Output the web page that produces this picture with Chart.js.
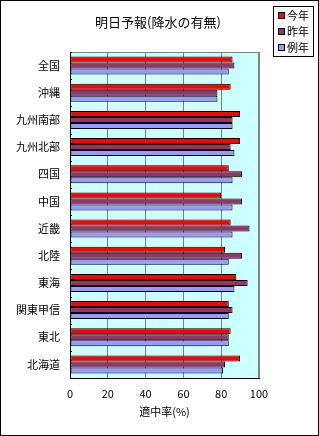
<!DOCTYPE html>
<html>
<head>
<meta charset="utf-8">
<script src="https://cdn.jsdelivr.net/npm/chart.js@4.4.0/dist/chart.umd.min.js"></script>
<style>
  html, body { margin: 0; padding: 0; background: #fff; }
  #wrap { width: 319px; height: 436px; }
</style>
</head>
<body>
<div id="wrap"><canvas id="c" width="319" height="436"></canvas></div>
<script>
// 地域（上から順に）
const regions = ['全国', '沖縄', '九州南部', '九州北部', '四国', '中国', '近畿', '北陸', '東海', '関東甲信', '東北', '北海道'];
// 適中率(%)
const thisYear = [86, 85, 90, 90, 84, 80, 85, 82, 88, 84, 85, 90];
const lastYear = [87, 78, 86, 85, 91, 91, 95, 91, 94, 86, 84, 82];
const normalYear = [84, 78, 86, 87, 86, 86, 86, 84, 87, 84, 84, 81];
const seriesNames = ['今年', '昨年', '例年'];
const xTicks = [0, 20, 40, 60, 80, 100];

const FONT = '"Noto Sans CJK JP", "Noto Sans", sans-serif';

// 背景・枠・タイトル・凡例
const decor = {
  id: 'decor',
  beforeDraw(chart) {
    const { ctx, chartArea: a } = chart;
    ctx.save();
    ctx.fillStyle = '#ccffff';
    ctx.fillRect(a.left, a.top, a.right - a.left, a.bottom - a.top);
    ctx.restore();
  },
  afterDraw(chart) {
    const { ctx, chartArea: a, width, height } = chart;
    ctx.save();
    // プロットエリアの上・右の枠
    ctx.strokeStyle = '#808080';
    ctx.lineWidth = 1;
    ctx.beginPath();
    ctx.moveTo(Math.round(a.left) + 0.5, Math.round(a.top) + 0.5);
    ctx.lineTo(Math.round(a.right) - 0.5, Math.round(a.top) + 0.5);
    ctx.lineTo(Math.round(a.right) - 0.5, Math.round(a.bottom));
    ctx.stroke();

    // y軸の内向き目盛り
    ctx.strokeStyle = '#000';
    const yScale = chart.scales.y;
    const step = (a.bottom - a.top) / regions.length;
    for (let i = 0; i <= regions.length; i++) {
      const y = Math.round(a.top + i * step) + 0.5;
      ctx.beginPath();
      ctx.moveTo(a.left, y);
      ctx.lineTo(a.left + 2, y);
      ctx.stroke();
    }

    // 外枠
    ctx.strokeRect(0.5, 0.5, width - 1, height - 1);

    // タイトル
    ctx.fillStyle = '#000';
    ctx.font = '13px ' + FONT;
    ctx.textAlign = 'center';
    ctx.textBaseline = 'middle';
    ctx.fillText('明日予報(降水の有無)', 158, 22);

    // 凡例
    ctx.fillStyle = '#fff';
    ctx.fillRect(273.5, 6.5, 40, 50);
    ctx.strokeRect(273.5, 6.5, 40, 50);
    ctx.font = '11px ' + FONT;
    ctx.textAlign = 'left';
    chart.data.datasets.forEach((ds, i) => {
      const y = 16 + i * 16;
      ctx.fillStyle = ds.backgroundColor;
      ctx.fillRect(278.5, y - 3.5, 6, 6);
      ctx.strokeRect(278.5, y - 3.5, 6, 6);
      ctx.fillStyle = '#000';
      ctx.fillText(ds.label, 287, y);
    });
    ctx.restore();
  }
};

new Chart(document.getElementById('c'), {
  type: 'bar',
  data: {
    labels: regions,
    datasets: [
      { label: seriesNames[0], data: thisYear, backgroundColor: '#ff0000' },
      { label: seriesNames[1], data: lastYear, backgroundColor: '#993366' },
      { label: seriesNames[2], data: normalYear, backgroundColor: '#9999ff' }
    ].map(d => Object.assign(d, { borderColor: '#000', borderWidth: 1, borderSkipped: false }))
  },
  options: {
    indexAxis: 'y',
    responsive: false,
    animation: false,
    devicePixelRatio: 1,
    categoryPercentage: 0.66,
    barPercentage: 1.0,
    layout: { padding: { left: 0, top: 52, right: 60, bottom: 0 } },
    plugins: {
      legend: { display: false },
      title: { display: false },
      tooltip: { enabled: false }
    },
    scales: {
      x: {
        min: 0,
        max: 100,
        afterBuildTicks: (s) => { s.ticks = xTicks.map(v => ({ value: v })); },
        afterFit: (s) => { s.height = 58; },
        grid: { color: '#808080', drawTicks: false },
        border: { color: '#000' },
        ticks: { color: '#000', padding: 9, font: { family: FONT, size: 11 } },
        title: {
          display: true,
          text: '適中率(%)',
          color: '#000',
          font: { family: FONT, size: 11 },
          padding: { top: 4, bottom: 18 }
        }
      },
      y: {
        afterFit: (s) => { s.width = 70; },
        grid: { display: false, drawTicks: false },
        border: { color: '#000' },
        ticks: { color: '#000', padding: 10, font: { family: FONT, size: 11 } }
      }
    }
  },
  plugins: [decor]
});
</script>
</body>
</html>
